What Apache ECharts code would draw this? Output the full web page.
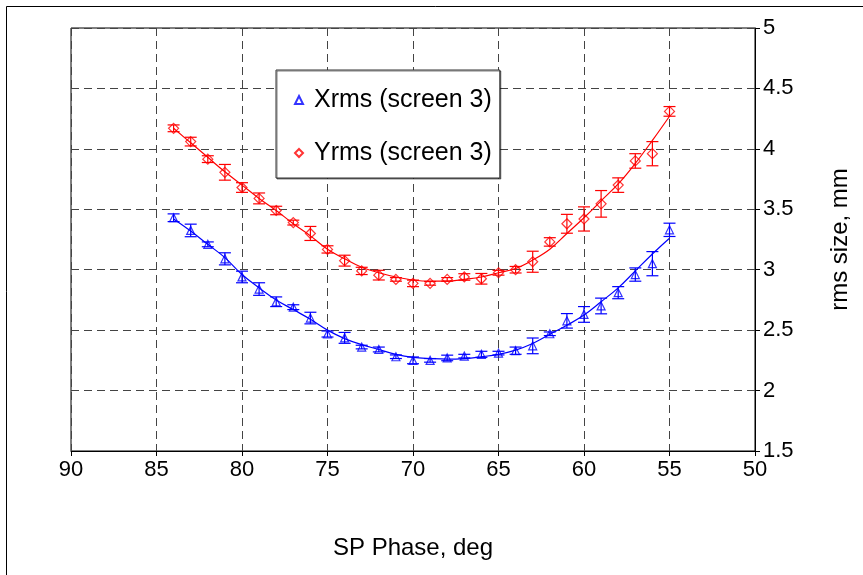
<!DOCTYPE html>
<html>
<head>
<meta charset="utf-8">
<script src="https://cdn.jsdelivr.net/npm/echarts@6/dist/echarts.min.js"></script>
<style>
  html, body { margin: 0; padding: 0; background: #fff; }
  #chart { width: 863px; height: 575px; }
</style>
</head>
<body>
<div id="chart"></div>
<script>
// SP phase, deg
const phase = [84, 83, 82, 81, 80, 79, 78, 77, 76, 75, 74, 73, 72, 71, 70,
               69, 68, 67, 66, 65, 64, 63, 62, 61, 60, 59, 58, 57, 56, 55];

// Xrms (screen 3), mm
const xrms = [3.43, 3.325, 3.21, 3.09, 2.94, 2.84, 2.735, 2.69, 2.60, 2.468, 2.436, 2.36, 2.34, 2.28, 2.25,
              2.25, 2.27, 2.285, 2.30, 2.31, 2.33, 2.37, 2.47, 2.577, 2.63, 2.70, 2.81, 2.96, 3.05, 3.33];
const xrmsErr = [0.032, 0.052, 0.02, 0.05, 0.048, 0.052, 0.04, 0.02, 0.048, 0.025, 0.045, 0.015, 0.02, 0.015, 0.028,
                 0.015, 0.023, 0.015, 0.025, 0.015, 0.03, 0.065, 0.015, 0.06, 0.065, 0.065, 0.05, 0.055, 0.1, 0.055];
const xrmsFit = [3.42, 3.32, 3.21, 3.10, 2.96, 2.85, 2.75, 2.67, 2.59, 2.50, 2.43, 2.38, 2.34, 2.30, 2.275,
                 2.265, 2.26, 2.265, 2.28, 2.30, 2.335, 2.39, 2.465, 2.54, 2.625, 2.735, 2.85, 2.99, 3.13, 3.26];

// Yrms (screen 3), mm
const yrms = [4.17, 4.06, 3.915, 3.806, 3.68, 3.59, 3.49, 3.39, 3.30, 3.168, 3.075, 2.99, 2.955, 2.92, 2.887,
              2.887, 2.92, 2.94, 2.925, 2.975, 3.0, 3.066, 3.23, 3.38, 3.42, 3.545, 3.70, 3.90, 3.96, 4.31];
const yrmsErr = [0.028, 0.036, 0.028, 0.065, 0.04, 0.045, 0.035, 0.02, 0.058, 0.03, 0.045, 0.03, 0.04, 0.015, 0.027,
                 0.015, 0.015, 0.027, 0.044, 0.02, 0.027, 0.087, 0.035, 0.078, 0.1, 0.11, 0.06, 0.06, 0.1, 0.04];
const yrmsFit = [4.17, 4.05, 3.93, 3.81, 3.70, 3.59, 3.49, 3.38, 3.28, 3.17, 3.09, 3.02, 2.975, 2.94, 2.915,
                 2.905, 2.905, 2.92, 2.94, 2.975, 3.01, 3.08, 3.17, 3.30, 3.43, 3.57, 3.71, 3.88, 4.07, 4.27];

const BLUE = '#0000ff';
const RED = '#ff0000';
const FONT = '"Liberation Sans", Arial, sans-serif';

function pairs(ys) {
  return phase.map((p, i) => [p, ys[i]]);
}

function errData(ys, errs) {
  return phase.map((p, i) => [p, ys[i] - errs[i], ys[i] + errs[i]]);
}

function errorBars(color) {
  return function (params, api) {
    const lo = api.coord([api.value(0), api.value(1)]);
    const hi = api.coord([api.value(0), api.value(2)]);
    const w = 6;
    const style = { stroke: color, lineWidth: 1.2 };
    return {
      type: 'group',
      children: [
        { type: 'line', shape: { x1: lo[0], y1: lo[1], x2: hi[0], y2: hi[1] }, style: style },
        { type: 'line', shape: { x1: lo[0] - w, y1: lo[1], x2: lo[0] + w, y2: lo[1] }, style: style },
        { type: 'line', shape: { x1: hi[0] - w, y1: hi[1], x2: hi[0] + w, y2: hi[1] }, style: style }
      ]
    };
  };
}

const chart = echarts.init(document.getElementById('chart'));

const option = {
  animation: false,
  backgroundColor: '#fff',
  textStyle: { fontFamily: FONT },
  graphic: [
    {
      type: 'rect',
      shape: { x: 6.5, y: 6.5, width: 900, height: 600 },
      style: { fill: 'none', stroke: '#000', lineWidth: 1 },
      silent: true
    }
  ],
  grid: {
    left: 71, right: 108, top: 28, bottom: 124,
    show: true, borderColor: '#000', borderWidth: 1
  },
  legend: {
    orient: 'vertical',
    left: 276, top: 70,
    padding: [17, 8, 12, 18],
    itemGap: 27,
    itemWidth: 8, itemHeight: 8,
    backgroundColor: '#fff',
    borderColor: '#333', borderWidth: 1,
    shadowColor: 'rgba(0,0,0,0.5)', shadowOffsetX: 1, shadowOffsetY: 1,
    textStyle: { fontSize: 25, lineHeight: 26, color: '#000', fontFamily: FONT, padding: [0, 0, 0, 6] },
    data: ['Xrms (screen 3)', 'Yrms (screen 3)']
  },
  xAxis: {
    type: 'value',
    inverse: true,
    min: 50, max: 90, interval: 5,
    name: 'SP Phase, deg',
    nameLocation: 'middle',
    nameGap: 85,
    nameTextStyle: { fontSize: 24, color: '#000', fontFamily: FONT },
    axisLine: { lineStyle: { color: '#000', width: 1 } },
    axisTick: { show: true, length: 5, lineStyle: { color: '#000' } },
    axisLabel: { fontSize: 22, color: '#000', margin: 8, fontFamily: FONT },
    splitLine: { show: true, lineStyle: { color: '#444', type: [8, 5], width: 1 } }
  },
  yAxis: {
    type: 'value',
    position: 'right',
    min: 1.5, max: 5, interval: 0.5,
    name: 'rms size, mm',
    nameLocation: 'middle',
    nameRotate: 90,
    nameGap: 73,
    nameTextStyle: { fontSize: 24, color: '#000', fontFamily: FONT },
    axisLine: { show: true, lineStyle: { color: '#000', width: 1 } },
    axisTick: { show: true, length: 5, lineStyle: { color: '#000' } },
    axisLabel: { fontSize: 22, color: '#000', margin: 8, fontFamily: FONT },
    splitLine: { show: true, lineStyle: { color: '#444', type: [8, 5], width: 1 } }
  },
  series: [
    {
      name: 'Xrms fit', type: 'line', data: pairs(xrmsFit), smooth: 0.4,
      showSymbol: false, lineStyle: { color: BLUE, width: 1.2 }, z: 2, silent: true
    },
    {
      name: 'Yrms fit', type: 'line', data: pairs(yrmsFit), smooth: 0.4,
      showSymbol: false, lineStyle: { color: RED, width: 1.2 }, z: 2, silent: true
    },
    {
      name: 'Xrms err', type: 'custom', data: errData(xrms, xrmsErr),
      renderItem: errorBars(BLUE), z: 3, silent: true
    },
    {
      name: 'Yrms err', type: 'custom', data: errData(yrms, yrmsErr),
      renderItem: errorBars(RED), z: 3, silent: true
    },
    {
      name: 'Xrms (screen 3)', type: 'scatter', data: pairs(xrms),
      symbol: 'triangle', symbolSize: 8,
      itemStyle: { color: 'rgba(255,255,255,0)', borderColor: BLUE, borderWidth: 1.2 }, z: 4
    },
    {
      name: 'Yrms (screen 3)', type: 'scatter', data: pairs(yrms),
      symbol: 'diamond', symbolSize: 10,
      itemStyle: { color: 'rgba(255,255,255,0)', borderColor: RED, borderWidth: 1.2 }, z: 4
    }
  ]
};

chart.setOption(option);
</script>
</body>
</html>
